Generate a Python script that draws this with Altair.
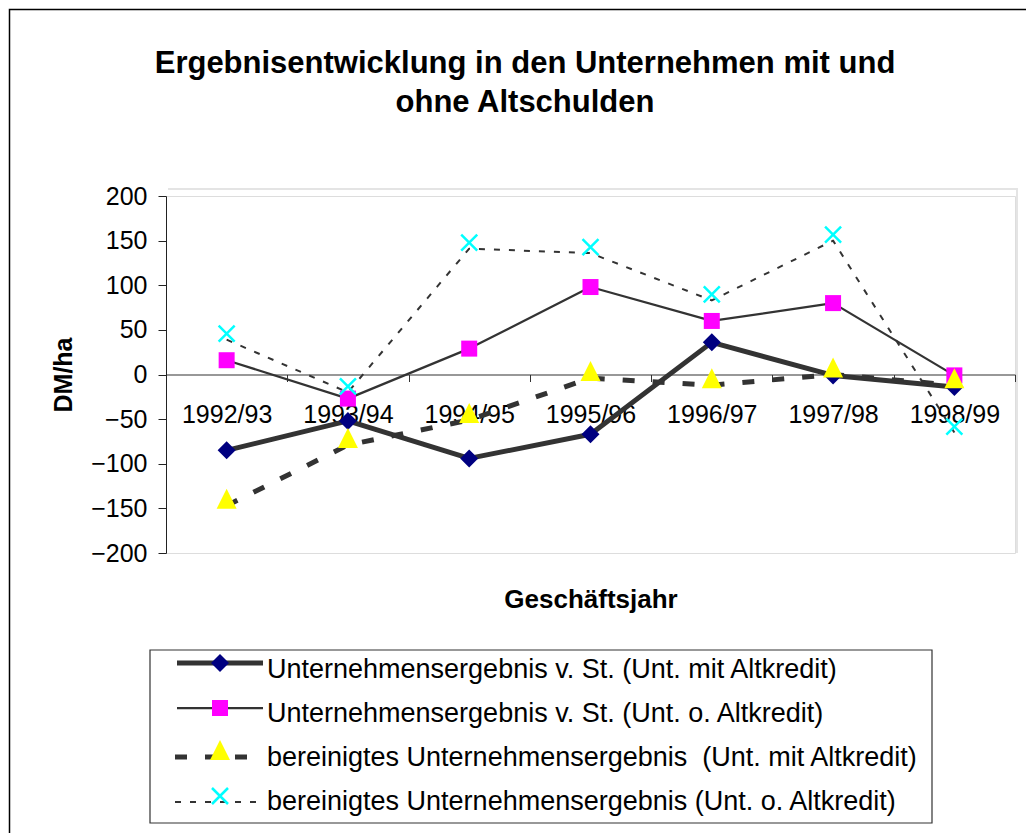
import altair as alt
import pandas as pd

# ---------------- data ----------------
years = ["1992/93", "1993/94", "1994/95", "1995/96", "1996/97", "1997/98", "1998/99"]
ergebnis_mit = [-85, -52, -94, -67, 36, -1, -14]
ergebnis_ohne = [16, -27, 29, 98, 60, 80, -1]
bereinigt_mit = [-147, -79, -51, -4, -12, 0, -12]
bereinigt_ohne = [39, -20, 141, 136, 83, 150, -65]
series_names = [
    "Unternehmensergebnis v. St. (Unt. mit Altkredit)",
    "Unternehmensergebnis v. St. (Unt. o. Altkredit)",
    "bereinigtes Unternehmensergebnis \u00a0(Unt. mit Altkredit)",
    "bereinigtes Unternehmensergebnis (Unt. o. Altkredit)",
]
y_ticks = [-200, -150, -100, -50, 0, 50, 100, 150, 200]
title_lines = ["Ergebnisentwicklung in den Unternehmen mit und", "ohne Altschulden"]
x_title = "Geschäftsjahr"
y_title = "DM/ha"

# ---------------- styles ----------------
FONT = "Liberation Sans, Arial, sans-serif"
LINE = "#333333"
styles = [
    dict(width=5, dash=None, shape="diamond", color="#000080", size=324, filled=True, yoff=0),
    dict(width=2.25, dash=None, shape="square", color="#FF00FF", size=256, filled=True, yoff=0),
    dict(width=5, dash=[12, 18], shape="M0,-1L1,1L-1,1Z", color="#FFFF00", size=400, filled=True, yoff=-7),
    dict(width=2, dash=[6, 9], shape="M-1,-1L1,1M1,-1L-1,1", color="#00FFFF", size=256, filled=False, yoff=-6),
]

all_values = [ergebnis_mit, ergebnis_ohne, bereinigt_mit, bereinigt_ohne]

x_enc = alt.X(
    "Jahr:N",
    sort=None,
    scale=alt.Scale(type="band", domain=years, paddingInner=0, paddingOuter=0),
    axis=alt.Axis(
        title=x_title, offset=-178.5, tickBand="extent", tickSize=7, tickColor="#333333",
        domainColor="#333333", domainWidth=1.2, labelFontSize=25, labelFont=FONT, labelColor="black",
        labelPadding=21, labelAngle=0, grid=False,
        titleX=424.5, titleY=225, titleBaseline="middle", titleAlign="center",
        titleFontSize=26, titleFont=FONT, titleFontWeight="bold", titleColor="black",
    ),
)
y_enc = alt.Y(
    "Wert:Q",
    scale=alt.Scale(domain=[-200, 200], nice=False, zero=False),
    axis=alt.Axis(
        values=y_ticks, title=y_title, tickSize=8, tickColor="#222222", domainColor="#222222",
        labelPadding=11, labelFontSize=25, labelFont=FONT, labelColor="black", grid=False,
        titleX=-103, titleY=178.5, titleAngle=270, titleAlign="center", titleBaseline="middle",
        titleFontSize=25, titleFont=FONT, titleFontWeight="bold", titleColor="black",
    ),
)


def point_kwargs(st):
    if st["filled"]:
        return dict(shape=st["shape"], size=st["size"], filled=True, fill=st["color"],
                    color=st["color"], opacity=1, strokeWidth=0, yOffset=st["yoff"])
    return dict(shape=st["shape"], size=st["size"], filled=False, stroke=st["color"],
                color=st["color"], opacity=1, strokeWidth=2.5, yOffset=st["yoff"])


layers = []

# outer chart frame
frame_df = pd.DataFrame({"k": [0]})
layers.append(
    alt.Chart(frame_df).mark_rect(filled=False, stroke="black", strokeWidth=1.5).encode(
        x=alt.value(-156.5), x2=alt.value(1100), y=alt.value(-186.5), y2=alt.value(900)
    )
)
# faint plot-area frame
layers.append(
    alt.Chart(frame_df).mark_rule(color="#E4E4E4", strokeWidth=2).encode(
        x=alt.value(2), x2=alt.value(852), y=alt.value(-7)
    )
)
layers.append(
    alt.Chart(frame_df).mark_rule(color="#E4E4E4", strokeWidth=2).encode(
        x=alt.value(851), y=alt.value(-7), y2=alt.value(357)
    )
)

# title
for txt, ty in zip(title_lines, [-132, -93]):
    layers.append(
        alt.Chart(pd.DataFrame({"t": [txt]})).mark_text(
            align="center", baseline="middle", font=FONT, fontSize=31, fontWeight="bold", color="black"
        ).encode(x=alt.value(359), y=alt.value(ty), text="t:N")
    )

# series lines
series_dfs = []
for name, vals in zip(series_names, all_values):
    series_dfs.append(pd.DataFrame({"Jahr": years, "Wert": vals, "Serie": name}))

for sdf, st in zip(series_dfs, styles):
    kw = dict(color=LINE, strokeWidth=st["width"], strokeJoin="round")
    if st["dash"]:
        kw["strokeDash"] = st["dash"]
    layers.append(alt.Chart(sdf).mark_line(**kw).encode(x=x_enc, y=y_enc))

for sdf, st in zip(series_dfs, styles):
    layers.append(alt.Chart(sdf).mark_point(**point_kwargs(st)).encode(x=x_enc, y=y_enc))

# legend
leg_line_y = [467, 512, 561, 606]
leg_text_y = [474, 518, 562, 606]
layers.append(
    alt.Chart(frame_df).mark_rect(fill="white", stroke="#333333", strokeWidth=1.2).encode(
        x=alt.value(-16), x2=alt.value(766), y=alt.value(454), y2=alt.value(627)
    )
)
for i, (name, st) in enumerate(zip(series_names, styles)):
    one = pd.DataFrame({"Serie": [name]})
    rk = dict(color=LINE, strokeWidth=st["width"])
    if st["dash"]:
        rk["strokeDash"] = st["dash"]
    layers.append(
        alt.Chart(one).mark_rule(**rk).encode(
            x=alt.value(9 if st["dash"] else 11), x2=alt.value(97), y=alt.value(leg_line_y[i])
        )
    )
    layers.append(
        alt.Chart(one).mark_point(**point_kwargs(st)).encode(x=alt.value(54), y=alt.value(leg_line_y[i]))
    )
    layers.append(
        alt.Chart(one).mark_text(
            align="left", baseline="middle", font=FONT, fontSize=27, color="black"
        ).encode(x=alt.value(101), y=alt.value(leg_text_y[i]), text="Serie:N")
    )

chart = (
    alt.layer(*layers)
    .properties(
        width=849,
        height=357,
        padding={"left": 158, "top": 188, "right": 11, "bottom": 280},
        autosize=alt.AutoSizeParams(type="none"),
    )
    .configure_view(fill="#E0E0E0", stroke="transparent")
    .configure(background="white")
)

chart.save("out.html", embed_options={"renderer": "svg", "actions": False})
